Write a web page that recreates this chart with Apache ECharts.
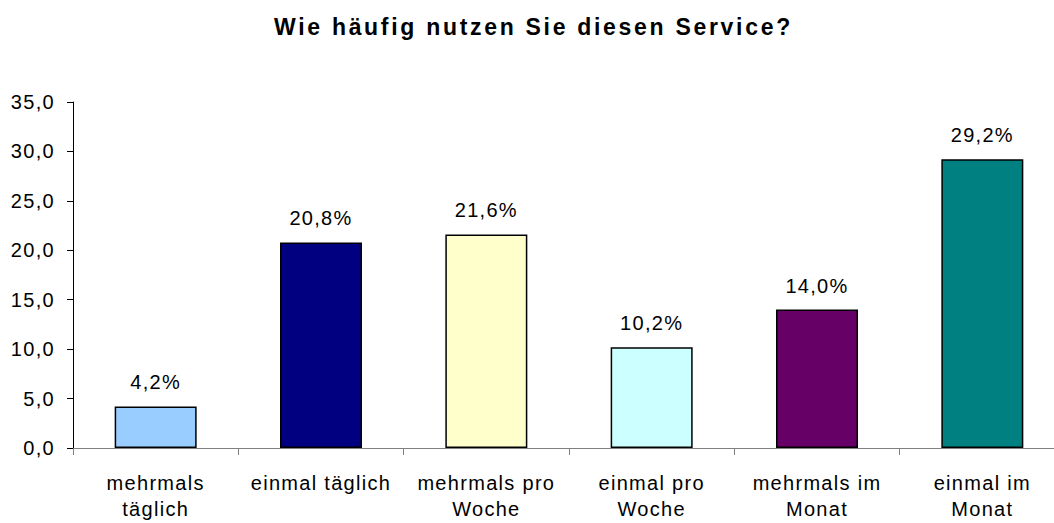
<!DOCTYPE html>
<html>
<head>
<meta charset="utf-8">
<script src="https://cdn.jsdelivr.net/npm/echarts@6/dist/echarts.min.js"></script>
<style>
  html, body { margin: 0; padding: 0; background: #fff; overflow: hidden; }
  /* etwas breiter als das Fenster: die Achse läuft rechts über den Rand hinaus */
  #chart { width: 1066px; height: 523px; }
  /* Excel-artige Laufweite der Schrift */
  #chart text { letter-spacing: 1.3px; }
  #chart text[style*="23px"] { letter-spacing: 2.7px; }
</style>
</head>
<body>
<div id="chart"></div>
<script>
// Daten
const categories = ['mehrmals\ntäglich', 'einmal täglich', 'mehrmals pro\nWoche', 'einmal pro\nWoche', 'mehrmals im\nMonat', 'einmal im\nMonat']
const values = [4.2, 20.8, 21.6, 10.2, 14.0, 29.2]
const barColors = ['#99ccff', '#000080', '#ffffcc', '#ccffff', '#660066', '#008080']

const chart = echarts.init(document.getElementById('chart'), null, { renderer: 'svg' })

const fmt = (v) => v.toFixed(1).replace('.', ',')

chart.setOption({
  animation: false,
  textStyle: { fontFamily: 'Liberation Sans, Arial, sans-serif' },
  title: {
    text: 'Wie häufig nutzen Sie diesen Service?',
    left: 269,
    top: 10,
    textStyle: { fontSize: 23, fontWeight: 'bold', color: '#000' }
  },
  grid: {
    left: 73,
    right: 1,
    top: 102,
    bottom: 75,
    containLabel: false
  },
  xAxis: {
    type: 'category',
    data: categories,
    axisLine: { lineStyle: { color: '#808080', width: 1 } },
    axisTick: { show: true, length: 7, lineStyle: { color: '#808080' } },
    axisLabel: {
      color: '#000',
      fontSize: 20,
      lineHeight: 26,
      margin: 22,
      interval: 0
    }
  },
  yAxis: {
    type: 'value',
    min: 0,
    max: 35,
    interval: 5,
    axisLine: { show: true, lineStyle: { color: '#000' } },
    axisTick: { show: true, length: 6, lineStyle: { color: '#000' } },
    splitLine: { show: false },
    axisLabel: {
      color: '#000',
      fontSize: 20,
      margin: 18,
      formatter: (v) => fmt(v)
    }
  },
  series: [{
    type: 'bar',
    barWidth: 82,
    data: values.map((v, i) => ({
      value: v,
      itemStyle: { color: barColors[i], borderColor: '#000', borderWidth: 1.5 }
    })),
    label: {
      show: true,
      position: 'top',
      distance: 14,
      color: '#000',
      fontSize: 20,
      formatter: (p) => fmt(p.value) + '%'
    }
  }]
})
</script>
</body>
</html>
